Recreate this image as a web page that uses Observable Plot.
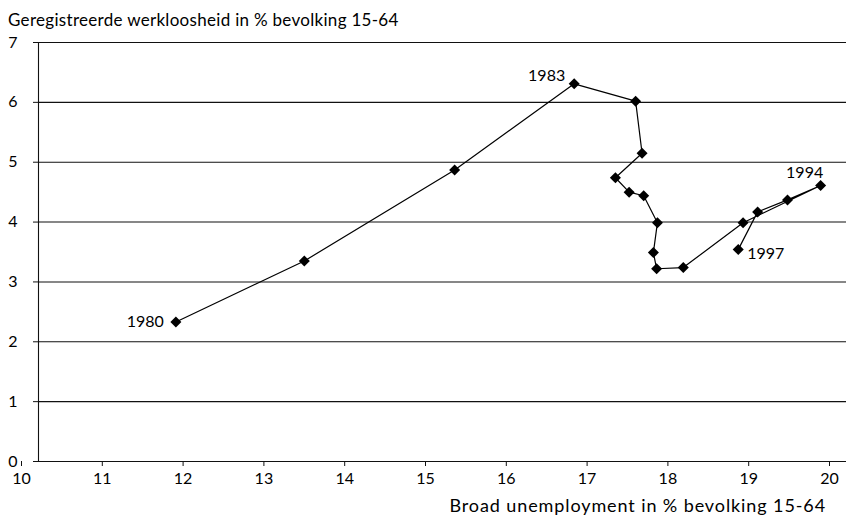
<!DOCTYPE html>
<html><head><meta charset="utf-8">
<script src="https://cdn.jsdelivr.net/npm/d3@7"></script>
<script src="https://cdn.jsdelivr.net/npm/@observablehq/plot@0.6"></script>
<style>
html,body{margin:0;padding:0;background:#fff;}
body{position:relative;width:848px;height:517px;overflow:hidden;font-family:Lato,"Open Sans",sans-serif;color:#000;}
#title{position:absolute;left:8px;top:8px;font-size:17px;letter-spacing:0.3px;line-height:24px;white-space:nowrap;}
#chart{position:absolute;left:0;top:32px;}
#xlabel{position:absolute;right:22px;top:493px;font-size:18px;letter-spacing:0.9px;line-height:24px;white-space:nowrap;}
</style></head><body>
<div id="chart"></div>
<div id="title">Geregistreerde werkloosheid in % bevolking 15-64</div>
<div id="xlabel">Broad unemployment in % bevolking 15-64</div>
<script>
const years = [1980,1981,1982,1983,1984,1985,1986,1987,1988,1989,1990,1991,1992,1993,1994,1995,1996,1997];
const broad = [11.70,13.29,15.15,16.63,17.39,17.47,17.14,17.31,17.49,17.66,17.61,17.65,17.98,18.72,19.68,19.27,18.90,18.66];
const registered = [2.33,3.35,4.87,6.31,6.02,5.15,4.74,4.50,4.44,3.99,3.49,3.22,3.24,3.99,4.61,4.37,4.17,3.54];
const xTicks = [10,11,12,13,14,15,16,17,18,19,20];
const yTicks = [0,1,2,3,4,5,6,7];

const data = years.map((year, i) => ({year, x: broad[i], y: registered[i]}));
const pick = yr => data.filter(d => d.year === yr);

const chart = Plot.plot({
  width: 848,
  height: 462,
  marginTop: 10,
  marginLeft: 38,
  marginRight: 2,
  marginBottom: 33,
  style: {fontFamily: "Lato, 'Open Sans', sans-serif", fontSize: "16px", background: "transparent", color: "#000"},
  x: {domain: [10, 20]},
  y: {domain: [0, 7]},
  marks: [
    Plot.ruleY(yTicks.filter(d => d > 0), {stroke: "#111", strokeWidth: 1.1}),
    Plot.ruleY([0], {stroke: "#111", strokeWidth: 1.1}),
    Plot.ruleX([10], {y1: 0, y2: 7, stroke: "#111", strokeWidth: 1.1}),
    Plot.axisX({ticks: xTicks, tickFormat: "d", tickSize: 5, tickPadding: 6, dx: -17, label: null, fontSize: 16, stroke: "#111"}),
    Plot.axisY({ticks: yTicks, tickFormat: "d", tickSize: 5, tickPadding: 16, label: null, fontSize: 16, stroke: "#111"}),
    Plot.line(data, {x: "x", y: "y", stroke: "#000", strokeWidth: 1.2}),
    Plot.dot(data, {x: "x", y: "y", symbol: "square", rotate: 45, r: 4.4, fill: "#000", stroke: "none"}),
    Plot.text(pick(1980), {x: "x", y: "y", text: d => String(d.year), textAnchor: "end", dx: -12, dy: 0, fontSize: 16}),
    Plot.text(pick(1983), {x: "x", y: "y", text: d => String(d.year), textAnchor: "end", dx: -9, dy: -8, fontSize: 16}),
    Plot.text(pick(1994), {x: "x", y: "y", text: d => String(d.year), textAnchor: "middle", dx: -16, dy: -13, fontSize: 16}),
    Plot.text(pick(1997), {x: "x", y: "y", text: d => String(d.year), textAnchor: "start", dx: 9, dy: 4, fontSize: 16})
  ]
});
document.getElementById("chart").appendChild(chart);
</script>
</body></html>
